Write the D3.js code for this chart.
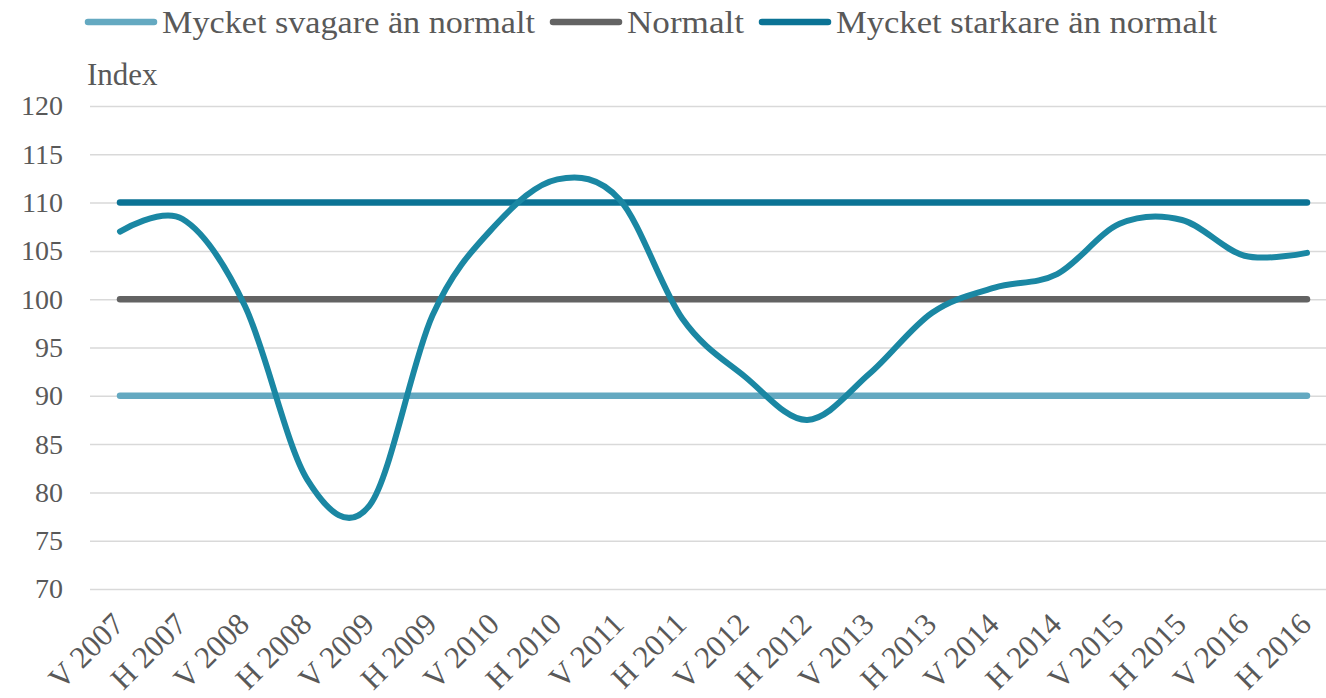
<!DOCTYPE html>
<html>
<head>
<meta charset="utf-8">
<script src="https://cdnjs.cloudflare.com/ajax/libs/d3/7.8.5/d3.min.js"></script>
<style>
    body { margin: 0; background: #fff; }
    svg { display: block; }
</style>
</head>
<body>
<svg id="chart" width="1326" height="698"></svg>
<script>
var categories = ["V 2007", "H 2007", "V 2008", "H 2008", "V 2009", "H 2009", "V 2010", "H 2010",
    "V 2011", "H 2011", "V 2012", "H 2012", "V 2013", "H 2013", "V 2014", "H 2014",
    "V 2015", "H 2015", "V 2016", "H 2016"];

var indexValues = [107, 108.3, 99.3, 81.3, 78.7, 98.3, 107.6, 112.4, 110.3, 98,
    92, 87.5, 92.3, 98.6, 101.2, 102.6, 107.8, 108.2, 104.5, 104.8];

// constant reference levels, drawn as flat series
var levelNames = ["Mycket svagare än normalt", "Normalt", "Mycket starkare än normalt"];
var levelValues = [90, 100, 110];
var levelColors = ["#64a9c1", "#636363", "#0b7395"];

var yTicks = [70, 75, 80, 85, 90, 95, 100, 105, 110, 115, 120];

function drawChart() {
    var svg = d3.select("#chart"),
        font = "'Liberation Serif', 'Times New Roman', serif",
        textColor = "#595959";

    var x = d3.scalePoint()
        .domain(categories)
        .range([120, 1307]);

    var y = d3.scaleLinear()
        .domain([70, 120])
        .range([589, 106]);

    // gridlines + tick labels
    svg.append("g")
        .attr("transform", "translate(90,0)")
        .call(d3.axisLeft(y)
            .tickValues(yTicks)
            .tickSize(-1236)
            .tickPadding(27))
        .call(g => g.select(".domain").remove())
        .call(g => g.selectAll(".tick line")
            .attr("stroke", "#d9d9d9")
            .attr("stroke-width", 1.5))
        .call(g => g.selectAll(".tick text")
            .attr("fill", textColor)
            .attr("font-family", font)
            .attr("font-size", 28));

    svg.append("text")
        .attr("x", 87)
        .attr("y", 85)
        .attr("fill", textColor)
        .attr("font-family", font)
        .attr("font-size", 31)
        .text("Index");

    // x labels, rotated
    svg.append("g")
        .selectAll("text")
        .data(categories)
        .join("text")
        .attr("transform", d => "translate(" + (x(d) + 6) + ",626) rotate(-45)")
        .attr("text-anchor", "end")
        .attr("fill", textColor)
        .attr("font-family", font)
        .attr("font-size", 31)
        .text(d => d);

    svg.append("g")
        .selectAll("path")
        .data(levelValues)
        .join("path")
        .attr("d", function (v) {
            return d3.line()
                .x(d => x(d))
                .y(y(v))(categories);
        })
        .attr("fill", "none")
        .attr("stroke", (d, i) => levelColors[i])
        .attr("stroke-width", 6.5)
        .attr("stroke-linecap", "round");

    var line = d3.line()
        .x((d, i) => x(categories[i]))
        .y(d => y(d))
        .curve(d3.curveCardinal.tension(0));

    svg.append("path")
        .datum(indexValues)
        .attr("d", line)
        .attr("fill", "none")
        .attr("stroke", "#1a87a3")
        .attr("stroke-width", 6)
        .attr("stroke-linecap", "round")
        .attr("stroke-linejoin", "round");

    // legend
    var legendWidths = [373, 117, 381];
    var lx = 85;
    var legend = svg.append("g");
    levelNames.forEach(function (name, i) {
        legend.append("line")
            .attr("x1", lx + 3)
            .attr("x2", lx + 69)
            .attr("y1", 22)
            .attr("y2", 22)
            .attr("stroke", levelColors[i])
            .attr("stroke-width", 6.5)
            .attr("stroke-linecap", "round");
        legend.append("text")
            .attr("x", lx + 77)
            .attr("y", 33)
            .attr("fill", textColor)
            .attr("font-family", font)
            .attr("font-size", 31)
            .attr("textLength", legendWidths[i])
            .attr("lengthAdjust", "spacingAndGlyphs")
            .text(name);
        lx += 77 + legendWidths[i] + 15;
    });
}

drawChart();
</script>
</body>
</html>
